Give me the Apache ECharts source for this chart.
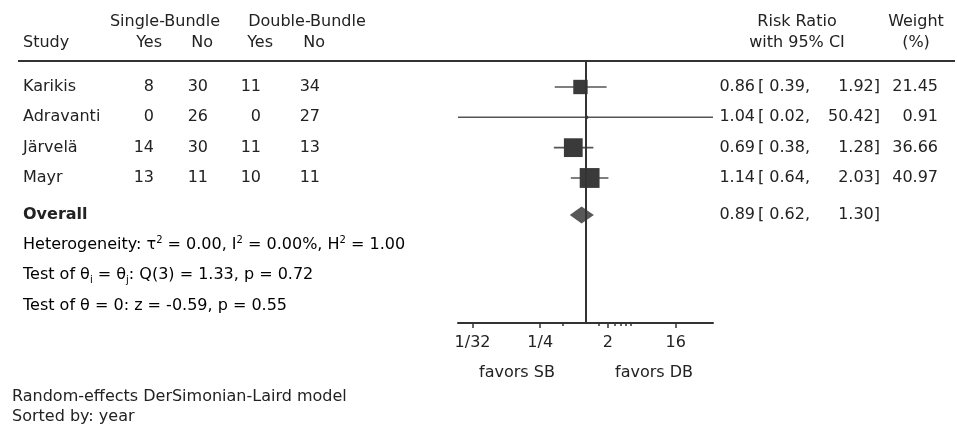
<!DOCTYPE html>
<html>
<head>
<meta charset="utf-8">
<script src="https://cdn.jsdelivr.net/npm/echarts@6/dist/echarts.min.js"></script>
<style>
    html, body { margin: 0; padding: 0; background: #fff; }
    #main { width: 957px; height: 426px; }
</style>
</head>
<body>
<div id="main"></div>
<script>
    // study rows
    var studies = ['Karikis', 'Adravanti', 'Järvelä', 'Mayr'];
    var sbYes = [8, 0, 14, 13];
    var sbNo = [30, 26, 30, 11];
    var dbYes = [11, 0, 11, 10];
    var dbNo = [34, 27, 13, 11];
    var rr = [0.86, 1.04, 0.69, 1.14];
    var rrLow = [0.39, 0.02, 0.38, 0.64];
    var rrHigh = [1.92, 50.42, 1.28, 2.03];
    var weights = [21.45, 0.91, 36.66, 40.97];
    // overall: estimate, lower, upper
    var overall = [0.89, 0.62, 1.30];
    // tau2, I2 (%), H2
    var hetero = [0.00, 0.00, 1.00];
    // df, Q, p
    var qTest = [3, 1.33, 0.72];
    // z, p
    var zTest = [-0.59, 0.55];
    // x axis
    var xRange = [0.02, 50.42];
    var xTicks = [1 / 32, 1 / 4, 2, 16];
    var xTickLabels = ['1/32', '1/4', '2', '16'];
    var xMinorTicks = [0.5, 1.5, 2.5, 3, 3.5, 4];

    var FONT = '"DejaVu Sans", sans-serif';
    var FS = 16;
    var INK = '#222';

    // row positions (row units, 1 row ~ 30px)
    var overallRow = 4.22;
    var statRows = [5.21, 6.2, 7.22];

    var chart = echarts.init(document.getElementById('main'));

    function txt(x, y, s, align, bold) {
        return {
            type: 'text', x: x, y: y,
            style: {
                text: s, fill: INK, align: align || 'left', verticalAlign: 'middle',
                font: (bold ? 'bold ' : '') + FS + 'px ' + FONT
            }
        };
    }

    function ciTexts(y, est, lo, hi) {
        return [
            txt(755, y, est.toFixed(2), 'right'),
            txt(758, y, '['),
            txt(810, y, lo.toFixed(2) + ',', 'right'),
            txt(880, y, hi.toFixed(2) + ']', 'right')
        ];
    }

    function tickLabel(v) {
        for (var i = 0; i < xTicks.length; i++) {
            if (Math.abs(Math.log(v) - Math.log(xTicks[i])) < 1e-6) return xTickLabels[i];
        }
        return '';
    }

    var rich = {
        n: { fontSize: FS, fontFamily: FONT, color: INK, lineHeight: 20 },
        sup: { fontSize: 10, fontFamily: FONT, color: INK, lineHeight: 10, verticalAlign: 'top' },
        sub: { fontSize: 10, fontFamily: FONT, color: INK, lineHeight: 10, verticalAlign: 'bottom' }
    };
    var statLines = [
        '{n|Heterogeneity: τ}{sup|2}{n| = ' + hetero[0].toFixed(2) + ', I}{sup|2}{n| = ' +
            hetero[1].toFixed(2) + '%, H}{sup|2}{n| = ' + hetero[2].toFixed(2) + '}',
        '{n|Test of θ}{sub|i}{n| = θ}{sub|j}{n|: Q(' + qTest[0] + ') = ' + qTest[1].toFixed(2) +
            ', p = ' + qTest[2].toFixed(2) + '}',
        '{n|Test of θ = 0: z = ' + zTest[0].toFixed(2) + ', p = ' + zTest[1].toFixed(2) + '}'
    ];

    var option = {
        animation: false,
        grid: [
            { left: 458, right: 244, top: 61, bottom: 103 },
            { left: 0, right: 0, top: 0, bottom: 0 }
        ],
        xAxis: [{
            gridIndex: 0,
            type: 'log',
            logBase: 2,
            min: xRange[0],
            max: xRange[1],
            position: 'bottom',
            axisLine: { onZero: false, lineStyle: { color: '#333', width: 2 } },
            axisTick: { customValues: xTicks, length: 5, lineStyle: { color: '#333', width: 1.5 } },
            axisLabel: {
                customValues: xTicks, margin: 12, color: INK, fontSize: FS, fontFamily: FONT,
                formatter: tickLabel
            },
            splitLine: { show: false },
            minorTick: { show: false }
        }, {
            gridIndex: 0,
            type: 'log',
            logBase: 2,
            min: xRange[0],
            max: xRange[1],
            position: 'bottom',
            offset: 0,
            axisLine: { show: false, onZero: false },
            axisTick: { customValues: xMinorTicks, length: 3, lineStyle: { color: '#333', width: 1.5 } },
            axisLabel: { show: false },
            splitLine: { show: false }
        }, {
            gridIndex: 1, type: 'value', min: 0, max: 957, show: false
        }],
        yAxis: [{
            gridIndex: 0, type: 'value', min: -0.857, max: 7.781, inverse: true, show: false
        }, {
            gridIndex: 1, type: 'value', min: -2.868, max: 11.177, inverse: true, show: false
        }],
        graphic: [
            { type: 'line', shape: { x1: 18, y1: 61, x2: 955, y2: 61 }, style: { stroke: '#333', lineWidth: 2 } },
            txt(165, 22, 'Single-Bundle', 'center'),
            txt(307, 22, 'Double-Bundle', 'center'),
            txt(23, 43, 'Study'),
            txt(162, 43, 'Yes', 'right'),
            txt(213, 43, 'No', 'right'),
            txt(273, 43, 'Yes', 'right'),
            txt(325, 43, 'No', 'right'),
            txt(797, 22, 'Risk Ratio', 'center'),
            txt(797, 43, 'with 95% CI', 'center'),
            txt(916, 22, 'Weight', 'center'),
            txt(916, 43, '(%)', 'center'),
            txt(517, 373, 'favors SB', 'center'),
            txt(654, 373, 'favors DB', 'center'),
            txt(12, 397, 'Random-effects DerSimonian-Laird model'),
            txt(12, 417, 'Sorted by: year')
        ],
        series: [{
            // confidence intervals + null line
            type: 'custom',
            xAxisIndex: 0, yAxisIndex: 0,
            data: studies.map(function (s, i) { return [rr[i], i]; }),
            z: 2,
            renderItem: function (params, api) {
                var i = params.dataIndex;
                var a = api.coord([rrLow[i], i]);
                var b = api.coord([rrHigh[i], i]);
                return {
                    type: 'line',
                    shape: { x1: a[0], y1: a[1], x2: b[0], y2: b[1] },
                    style: { stroke: '#555', lineWidth: 1.6 }
                };
            },
            markLine: {
                silent: true,
                symbol: ['none', 'none'],
                label: { show: false },
                lineStyle: { color: '#333', width: 2, type: 'solid' },
                data: [{ xAxis: 1 }]
            }
        }, {
            // study boxes, area ~ weight
            type: 'scatter',
            xAxisIndex: 0, yAxisIndex: 0,
            z: 3,
            symbol: 'rect',
            symbolSize: function (val, params) {
                return 3.1 * Math.sqrt(weights[params.dataIndex]);
            },
            itemStyle: { color: '#3a3a3a', opacity: 1 },
            data: studies.map(function (s, i) { return [rr[i], i]; })
        }, {
            // overall diamond
            type: 'custom',
            xAxisIndex: 0, yAxisIndex: 0,
            z: 3,
            data: [[overall[0], overallRow]],
            renderItem: function (params, api) {
                var l = api.coord([overall[1], overallRow]);
                var c = api.coord([overall[0], overallRow]);
                var r = api.coord([overall[2], overallRow]);
                return {
                    type: 'polygon',
                    shape: { points: [[l[0], l[1]], [c[0], c[1] - 8.5], [r[0], r[1]], [c[0], c[1] + 8.5]] },
                    style: { fill: '#585858' }
                };
            }
        }, {
            // table text for studies
            type: 'custom',
            xAxisIndex: 2, yAxisIndex: 1,
            data: studies.map(function (s, i) { return [0, i]; }),
            renderItem: function (params, api) {
                var i = params.dataIndex;
                var y = api.coord([0, i])[1];
                return {
                    type: 'group',
                    children: [
                        txt(23, y, studies[i]),
                        txt(154, y, String(sbYes[i]), 'right'),
                        txt(208, y, String(sbNo[i]), 'right'),
                        txt(261, y, String(dbYes[i]), 'right'),
                        txt(320, y, String(dbNo[i]), 'right'),
                        txt(938, y, weights[i].toFixed(2), 'right')
                    ].concat(ciTexts(y, rr[i], rrLow[i], rrHigh[i]))
                };
            }
        }, {
            // overall + statistics text
            type: 'custom',
            xAxisIndex: 2, yAxisIndex: 1,
            data: [[0, overallRow]],
            renderItem: function (params, api) {
                var y = api.coord([0, overallRow])[1];
                var kids = [txt(23, y, 'Overall', 'left', true)].concat(ciTexts(y, overall[0], overall[1], overall[2]));
                statRows.forEach(function (r, k) {
                    kids.push({
                        type: 'text', x: 23, y: api.coord([0, r])[1],
                        style: { text: statLines[k], rich: rich, verticalAlign: 'middle', align: 'left' }
                    });
                });
                return { type: 'group', children: kids };
            }
        }]
    };
    chart.setOption(option);
</script>
</body>
</html>
